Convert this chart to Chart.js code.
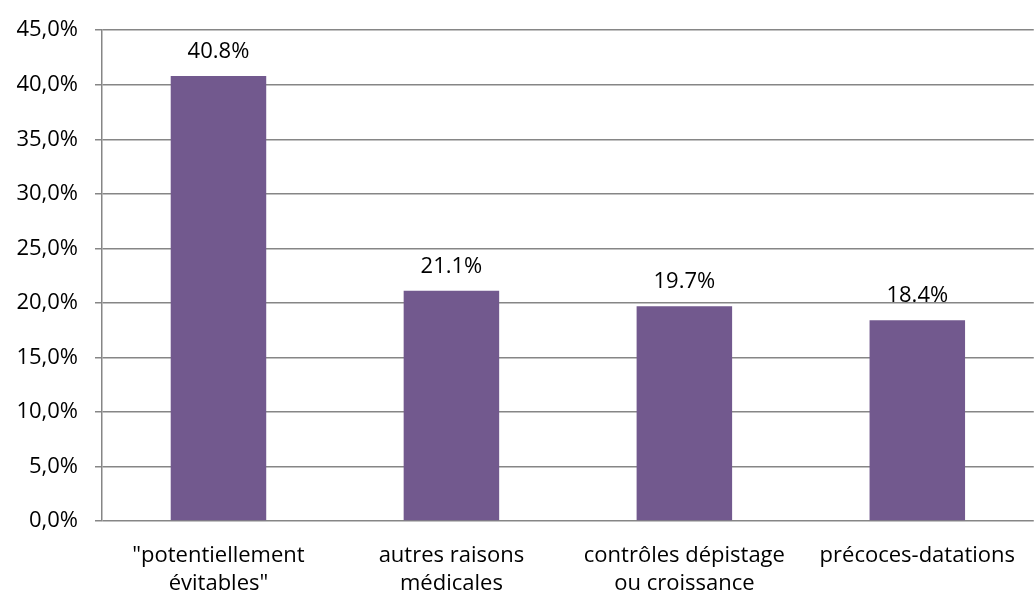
<!DOCTYPE html>
<html lang="fr">
<head>
    <script src="https://cdn.jsdelivr.net/npm/chart.js"></script>
    <meta charset="UTF-8">
    <title>Graphique</title>
    <style>
        html, body { margin: 0; padding: 0; background: #fff; }
        #wrap { width: 1036px; height: 599px; }
    </style>
</head>
<body>
    <div id="wrap">
        <canvas id="myChart"></canvas>
    </div>
    <script>
        const categories = [
            ['"potentiellement', 'évitables"'],
            ['autres raisons', 'médicales'],
            ['contrôles dépistage', 'ou croissance'],
            ['précoces-datations']
        ];
        const values = [40.8, 21.1, 19.7, 18.4];
        const yTicks = [0, 5, 10, 15, 20, 25, 30, 35, 40, 45];

        const fontFamily = '"Open Sans", sans-serif';
        const gridColor = '#868686';

        // draws the value above each bar
        const valueLabels = {
            id: 'valueLabels',
            afterDatasetsDraw(chart) {
                const ctx = chart.ctx;
                const meta = chart.getDatasetMeta(0);
                ctx.save();
                ctx.font = '22px ' + fontFamily;
                ctx.fillStyle = '#000';
                ctx.textAlign = 'center';
                ctx.textBaseline = 'alphabetic';
                meta.data.forEach((bar, i) => {
                    ctx.fillText(values[i].toFixed(1) + '%', bar.x, bar.y - 18);
                });
                ctx.restore();
            }
        };

        const ctx = document.getElementById('myChart');
        new Chart(ctx, {
            type: 'bar',
            data: {
                labels: categories,
                datasets: [{
                    data: values,
                    backgroundColor: '#72598E',
                    borderWidth: 0,
                    categoryPercentage: 1,
                    barPercentage: 0.41
                }]
            },
            options: {
                responsive: true,
                maintainAspectRatio: false,
                animation: false,
                layout: { padding: { top: 23, right: 0, bottom: 0, left: 0 } },
                plugins: {
                    legend: { display: false },
                    tooltip: { enabled: false }
                },
                scales: {
                    x: {
                        grid: { display: false, drawTicks: false },
                        border: { display: false },
                        ticks: {
                            color: '#000',
                            font: { family: fontFamily, size: 22, lineHeight: 1.25 },
                            padding: 21,
                            maxRotation: 0,
                            autoSkip: false
                        },
                        afterFit(scale) { scale.height = 78; }
                    },
                    y: {
                        min: 0,
                        max: 45,
                        afterBuildTicks(scale) {
                            scale.ticks = yTicks.map(v => ({ value: v }));
                        },
                        grid: { color: gridColor, lineWidth: 1.5, tickLength: 7 },
                        border: { color: gridColor, width: 1.5 },
                        ticks: {
                            color: '#000',
                            font: { family: fontFamily, size: 22 },
                            padding: 17,
                            callback: v => v.toFixed(1).replace('.', ',') + '%'
                        },
                        afterFit(scale) { scale.width = 102; }
                    }
                }
            },
            plugins: [valueLabels]
        });
    </script>
</body>
</html>
